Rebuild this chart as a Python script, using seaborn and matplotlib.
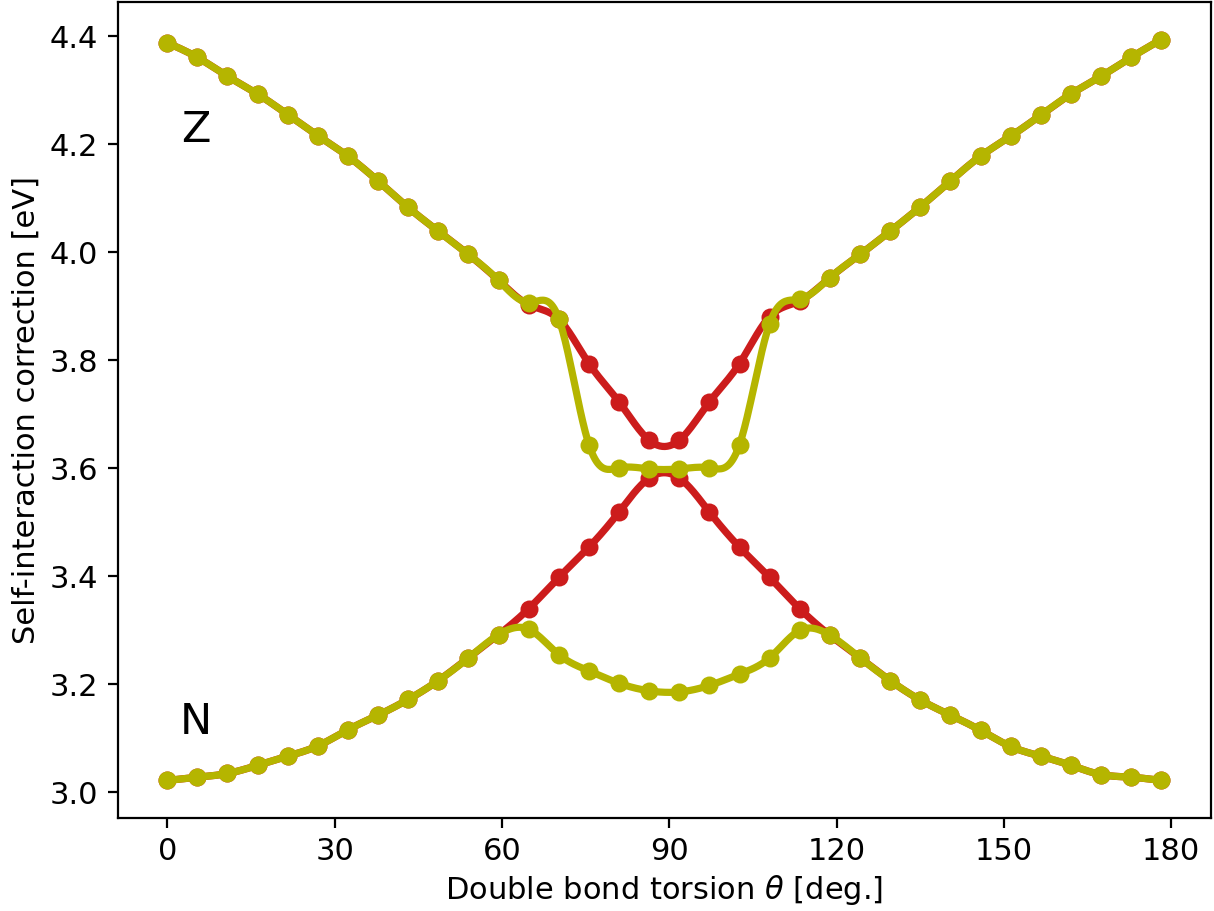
import matplotlib
matplotlib.use("Agg")
import matplotlib.pyplot as plt
import numpy as np
import pandas as pd
import seaborn as sns

# torsion angles (deg.)
theta = [0.0, 5.4, 10.8, 16.2, 21.6, 27.0, 32.4, 37.8, 43.2, 48.6, 54.0, 59.4,
         64.8, 70.2, 75.6, 81.0, 86.4, 91.8, 97.2, 102.6, 108.0, 113.4, 118.8,
         124.2, 129.6, 135.0, 140.4, 145.8, 151.2, 156.6, 162.0, 167.4, 172.8, 178.2]

# self-interaction correction [eV]
red_upper = [4.388, 4.361, 4.326, 4.293, 4.255, 4.216, 4.178, 4.132, 4.083, 4.039, 3.996, 3.948,
             3.903, 3.876, 3.794, 3.723, 3.652, 3.652, 3.723, 3.794, 3.881, 3.910, 3.953,
             3.996, 4.039, 4.084, 4.132, 4.178, 4.215, 4.254, 4.293, 4.326, 4.361, 4.394]
red_lower = [3.022, 3.028, 3.035, 3.050, 3.067, 3.086, 3.116, 3.143, 3.172, 3.207, 3.249, 3.292,
             3.340, 3.398, 3.454, 3.519, 3.582, 3.582, 3.519, 3.454, 3.398, 3.340, 3.291,
             3.249, 3.207, 3.171, 3.143, 3.115, 3.085, 3.067, 3.050, 3.033, 3.028, 3.022]
yel_upper = [4.388, 4.361, 4.326, 4.293, 4.255, 4.216, 4.178, 4.132, 4.083, 4.039, 3.996, 3.948,
             3.907, 3.877, 3.644, 3.601, 3.599, 3.599, 3.601, 3.644, 3.868, 3.913, 3.953,
             3.996, 4.039, 4.084, 4.132, 4.178, 4.215, 4.254, 4.293, 4.326, 4.361, 4.394]
yel_lower = [3.022, 3.028, 3.035, 3.050, 3.067, 3.086, 3.116, 3.143, 3.172, 3.207, 3.249, 3.292,
             3.302, 3.255, 3.225, 3.202, 3.188, 3.186, 3.198, 3.219, 3.249, 3.300, 3.291,
             3.249, 3.207, 3.171, 3.143, 3.115, 3.085, 3.067, 3.050, 3.033, 3.028, 3.022]

RED = '#cc1c1c'
YEL = '#b5b500'


def cubic_spline(x, y, xs):
    # natural cubic spline through the measured points, for the smooth line only
    x = np.asarray(x, float)
    y = np.asarray(y, float)
    n = len(x)
    h = np.diff(x)
    A = np.zeros((n, n))
    b = np.zeros(n)
    A[0, 0] = 1
    A[-1, -1] = 1
    for i in range(1, n - 1):
        A[i, i - 1] = h[i - 1]
        A[i, i] = 2 * (h[i - 1] + h[i])
        A[i, i + 1] = h[i]
        b[i] = 3 * ((y[i + 1] - y[i]) / h[i] - (y[i] - y[i - 1]) / h[i - 1])
    c = np.linalg.solve(A, b)
    bc = (y[1:] - y[:-1]) / h - h * (2 * c[:-1] + c[1:]) / 3
    d = (c[1:] - c[:-1]) / (3 * h)
    idx = np.clip(np.searchsorted(x, xs) - 1, 0, n - 2)
    dx = xs - x[idx]
    return y[idx] + bc[idx] * dx + c[idx] * dx ** 2 + d[idx] * dx ** 3


sns.set_style("ticks", {'axes.edgecolor': 'black', 'text.color': 'black',
                        'xtick.color': 'black', 'ytick.color': 'black',
                        'axes.labelcolor': 'black'})
plt.rcParams['font.family'] = ['DejaVu Sans']
plt.rcParams['mathtext.fontset'] = 'dejavusans'

fig = plt.figure(figsize=(6.07, 4.555), dpi=200)
ax = fig.add_axes([0.0968, 0.1026, 0.9007, 0.8947])

fine = np.linspace(theta[0], theta[-1], 800)
curves = [(red_upper, RED), (red_lower, RED), (yel_upper, YEL), (yel_lower, YEL)]
z = 2
for vals, col in curves:
    df = pd.DataFrame({'theta': theta, 'sic': vals})
    smooth = pd.DataFrame({'theta': fine, 'sic': cubic_spline(theta, vals, fine)})
    sns.lineplot(data=smooth, x='theta', y='sic', color=col, linewidth=2.6,
                 estimator=None, sort=False, ax=ax, zorder=z)
    sns.scatterplot(data=df, x='theta', y='sic', color=col, s=42, linewidth=0,
                    ax=ax, zorder=z + 1)
    z += 2

ax.set_xticks(range(0, 181, 30))
ax.set_yticks(np.arange(3.0, 4.41, 0.2))
ax.margins(x=0.05, y=0.05)
ax.tick_params(labelsize=11, length=3.5, width=0.8)
for s in ax.spines.values():
    s.set_linewidth(0.8)

ax.text(5.2, 4.226, 'Z', fontsize=15.5, ha='center', va='center')
ax.text(5.2, 3.13, 'N', fontsize=15.5, ha='center', va='center')

ax.set_xlabel(r'Double bond torsion $\theta$ [deg.]', fontsize=11, labelpad=2.5)
ax.set_ylabel('Self-interaction correction [eV]', fontsize=11, labelpad=3)

fig.savefig('out.png', dpi=200)
